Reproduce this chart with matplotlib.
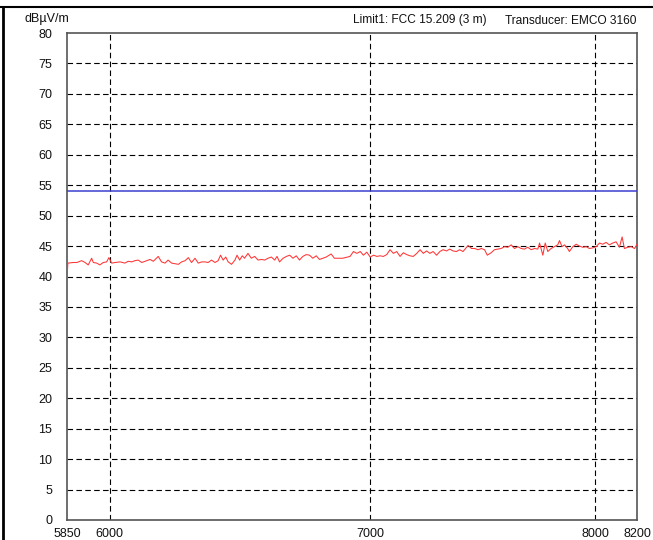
import matplotlib
matplotlib.use("Agg")
import matplotlib.pyplot as plt
from matplotlib.lines import Line2D
from matplotlib.ticker import FixedLocator, FixedFormatter, NullLocator

plt.rcParams['font.family'] = ['Liberation Sans', 'DejaVu Sans']

# ---- data ----
freq_mhz = [5850, 5853, 5872, 5884, 5901, 5913, 5924, 5936, 5942, 5954, 5965, 5977, 5989, 5997,
            6007, 6019, 6037, 6054, 6066, 6079, 6090, 6102, 6115, 6133, 6145, 6157, 6175, 6187,
            6200, 6211, 6224, 6236, 6249, 6261, 6274, 6286, 6298, 6311, 6323, 6336, 6348, 6360,
            6373, 6386, 6398, 6407, 6417, 6427, 6436, 6449, 6462, 6470, 6480, 6490, 6499, 6512,
            6525, 6538, 6551, 6564, 6577, 6590, 6603, 6616, 6625, 6635, 6649, 6662, 6675, 6688,
            6701, 6714, 6727, 6741, 6754, 6767, 6781, 6794, 6807, 6821, 6841, 6854, 6868, 6888,
            6918, 6932, 6946, 6960, 6973, 6987, 7001, 7015, 7029, 7042, 7056, 7070, 7084, 7098,
            7112, 7126, 7140, 7154, 7168, 7182, 7197, 7211, 7225, 7239, 7253, 7267, 7282, 7296,
            7310, 7325, 7339, 7353, 7368, 7382, 7397, 7419, 7434, 7448, 7463, 7478, 7492, 7504,
            7521, 7536, 7551, 7566, 7581, 7596, 7611, 7626, 7641, 7656, 7671, 7686, 7702, 7717,
            7732, 7740, 7755, 7766, 7778, 7793, 7809, 7824, 7832, 7844, 7855, 7870, 7878, 7894,
            7910, 7925, 7941, 7957, 7972, 7988, 8004, 8020, 8035, 8051, 8067, 8083, 8099, 8115,
            8128, 8139, 8155, 8172, 8188, 8200]
level_dbuv = [39.7, 42.2, 42.3, 42.3, 42.6, 42.3, 41.9, 43.0, 42.3, 42.2, 41.9, 42.3, 42.4, 43.1,
              42.2, 42.3, 42.4, 42.2, 42.5, 42.4, 42.6, 42.7, 42.3, 42.6, 42.8, 42.5, 43.3, 42.4,
              42.2, 42.7, 42.2, 42.1, 42.0, 42.4, 42.6, 43.1, 42.3, 43.0, 42.2, 42.4, 42.4, 42.3,
              42.7, 42.3, 42.6, 43.5, 42.7, 43.2, 42.4, 42.0, 42.7, 43.5, 42.7, 43.4, 43.0, 43.8,
              43.0, 43.3, 42.7, 42.8, 42.7, 43.0, 43.2, 42.7, 43.3, 42.4, 43.0, 43.3, 43.5, 43.0,
              43.4, 42.7, 43.3, 43.6, 43.5, 43.0, 43.4, 42.8, 43.0, 43.2, 43.7, 43.0, 43.0, 43.0,
              43.3, 44.1, 43.8, 44.1, 43.5, 44.0, 43.2, 43.5, 43.3, 43.4, 43.3, 43.6, 44.4, 43.8,
              44.1, 43.3, 43.9, 43.6, 43.4, 43.3, 43.8, 44.4, 43.8, 44.2, 43.8, 44.1, 43.5, 44.1,
              44.4, 44.2, 44.5, 44.2, 44.1, 44.4, 44.1, 45.1, 44.6, 44.6, 44.4, 44.6, 44.4, 43.5,
              43.9, 44.4, 44.5, 44.6, 44.9, 44.8, 45.2, 44.6, 44.9, 44.6, 44.5, 44.8, 44.4, 44.6,
              44.5, 45.5, 43.5, 45.5, 44.1, 44.6, 44.9, 45.2, 45.9, 44.9, 45.2, 44.6, 44.1, 44.9,
              45.3, 45.0, 44.8, 44.9, 44.6, 44.7, 44.9, 45.5, 45.3, 45.6, 45.2, 45.5, 45.7, 44.8,
              46.5, 44.6, 44.8, 44.9, 44.6, 45.3]
limit_freq = [5850, 8200]
limit_level = [54, 54]

x_ticks = [5850, 6000, 7000, 8000, 8200]
x_tick_labels = ['5850', '6000', '7000', '8000', '8200']
x_grid = [6000, 7000, 8000]
y_ticks = list(range(0, 85, 5))

y_unit = 'dBµV/m'
limit_text = 'Limit1: FCC 15.209 (3 m)'
transducer_text = 'Transducer: EMCO 3160'

# ---- figure ----
W, H = 653, 540
fig = plt.figure(figsize=(W / 100, H / 100), dpi=100)
ax = fig.add_axes([67 / W, 1 - 520 / H, 570 / W, 487 / H])

ax.set_xscale('log')
ax.set_xlim(5850, 8200)
ax.set_ylim(0, 80)

grid_kw = dict(color='black', lw=0.8, dashes=(5, 3), zorder=1)
for y in y_ticks[1:-1]:
    ax.axhline(y, **grid_kw)
for x in x_grid:
    ax.axvline(x, **grid_kw)

ax.plot(limit_freq, limit_level, color='#3a3fd0', lw=1.1, zorder=3)
ax.plot(freq_mhz, level_dbuv, color='#ff3535', lw=0.75, zorder=4)

ax.xaxis.set_major_locator(FixedLocator(x_ticks))
ax.xaxis.set_major_formatter(FixedFormatter(x_tick_labels))
ax.xaxis.set_minor_locator(NullLocator())
ax.set_yticks(y_ticks)
ax.tick_params(axis='both', length=0, labelsize=9, colors='#111111')
ax.tick_params(axis='y', pad=10.5)
ax.tick_params(axis='x', pad=6)

for s in ax.spines.values():
    s.set_color('#555555')
    s.set_linewidth(1.2)

fig.text(24 / W, 1 - 19 / H, y_unit, fontsize=9, ha='left', va='center', color='#111111')
fig.text(487 / W, 1 - 20.5 / H, limit_text, fontsize=8.6, ha='right', va='center', color='#111111')
fig.text(636 / W, 1 - 20.5 / H, transducer_text, fontsize=8.6, ha='right', va='center', color='#111111')

# outer frame lines
fig.add_artist(Line2D([0, 1], [1 - 7 / H, 1 - 7 / H], transform=fig.transFigure,
                      color='black', lw=1.5))
fig.add_artist(Line2D([2.5 / W, 2.5 / W], [0, 1 - 7 / H], transform=fig.transFigure,
                      color='black', lw=2.0))

fig.savefig('out.png', dpi=100)
